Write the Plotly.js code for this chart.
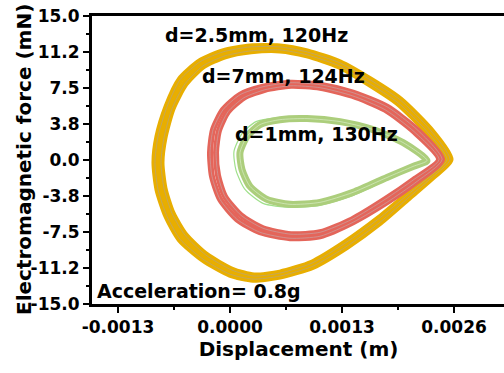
<!DOCTYPE html>
<html>
<head>
<meta charset="utf-8">
<script src="https://cdn.plot.ly/plotly-3.0.1.min.js"></script>
<style>
html, body { margin: 0; padding: 0; overflow: hidden; background: #fff; }
#chart { width: 510px; height: 373px; }
</style>
</head>
<body>
<div id="chart"></div>
<script>
// Loop d=2.5mm, 120Hz (displacement in m, force in mN) - outer cycle
const x25 = [0.002554, 0.002321, 0.001973, 0.001625, 0.001277, 0.000894, 0.000580, 0.000232, -0.000081, -0.000348, -0.000580, -0.000731, -0.000836, -0.000871, -0.000836, -0.000731, -0.000580, -0.000313, 0.000000, 0.000267, 0.000580, 0.000963, 0.001358, 0.001741, 0.002089, 0.002356, 0.002554];
const y25 = [0.05, 3.17, 6.28, 8.36, 10.12, 11.26, 11.78, 11.78, 11.26, 10.23, 8.36, 5.55, 2.44, -0.26, -3.06, -5.87, -8.25, -10.33, -11.89, -12.41, -12.09, -11.06, -8.98, -6.49, -3.79, -1.71, 0.05];
// d=2.5mm - inner cycle
const x25b = [0.002519, 0.002287, 0.001950, 0.001602, 0.001265, 0.000894, 0.000580, 0.000244, -0.000058, -0.000313, -0.000522, -0.000673, -0.000766, -0.000801, -0.000766, -0.000673, -0.000522, -0.000279, 0.000023, 0.000279, 0.000580, 0.000952, 0.001335, 0.001718, 0.002066, 0.002333, 0.002519];
const y25b = [0.05, 2.96, 5.97, 8.05, 9.81, 10.95, 11.47, 11.37, 10.85, 9.81, 7.94, 5.35, 2.34, -0.26, -2.96, -5.55, -7.84, -9.91, -11.47, -12.09, -11.78, -10.74, -8.67, -6.18, -3.58, -1.61, 0.05];
// Loop d=7mm, 124Hz - outer cycle
const x7 = [0.002461, 0.002171, 0.001822, 0.001428, 0.001045, 0.000696, 0.000383, 0.000116, -0.000081, -0.000197, -0.000232, -0.000209, -0.000116, 0.000081, 0.000348, 0.000696, 0.001045, 0.001428, 0.001822, 0.002171, 0.002461];
const y7 = [0.05, 3.17, 5.55, 7.01, 7.84, 8.05, 7.63, 6.80, 5.24, 3.17, 0.78, -1.71, -4.10, -6.18, -7.53, -8.15, -7.94, -6.49, -4.41, -2.23, 0.05];
// d=7mm - inner cycle
const x7b = [0.002426, 0.002136, 0.001799, 0.001416, 0.001045, 0.000708, 0.000406, 0.000162, -0.000023, -0.000128, -0.000162, -0.000139, -0.000058, 0.000128, 0.000383, 0.000708, 0.001045, 0.001416, 0.001799, 0.002136, 0.002426];
const y7b = [0.05, 2.96, 5.24, 6.70, 7.53, 7.73, 7.32, 6.49, 5.03, 3.06, 0.78, -1.61, -3.79, -5.76, -7.11, -7.73, -7.53, -6.18, -4.10, -2.02, 0.05];
// Loop d=1mm, 130Hz - main cycle
const x1 = [0.002287, 0.002008, 0.001660, 0.001277, 0.000894, 0.000580, 0.000348, 0.000197, 0.000116, 0.000139, 0.000232, 0.000429, 0.000696, 0.001045, 0.001428, 0.001822, 0.002124, 0.002287];
const y1 = [-0.05, 1.82, 3.17, 4.00, 4.31, 4.20, 3.69, 2.44, 0.78, -0.99, -2.75, -4.10, -4.62, -4.41, -3.37, -1.82, -0.67, -0.05];
// d=1mm - outer cycle
const x1b = [0.002310, 0.002020, 0.001660, 0.001277, 0.000882, 0.000557, 0.000302, 0.000139, 0.000046, 0.000070, 0.000174, 0.000383, 0.000685, 0.001045, 0.001428, 0.001834, 0.002147, 0.002310];
const y1b = [-0.05, 2.02, 3.37, 4.20, 4.52, 4.41, 4.00, 2.75, 0.88, -1.09, -3.06, -4.52, -4.93, -4.72, -3.69, -2.02, -0.78, -0.05];

const yTickVals = [-15, -11.25, -7.5, -3.75, 0, 3.75, 7.5, 11.25, 15];
const yTickText = ['-15.0', '-11.2', '-7.5', '-3.8', '0.0', '3.8', '7.5', '11.2', '15.0'];
const xTickVals = [-0.0013, 0.0000, 0.0013, 0.0026];
const xTickText = ['-0.0013', '0.0000', '0.0013', '0.0026'];

const FONT = 'DejaVu Sans, Liberation Sans, Arial, sans-serif';

function loop(x, y, color, w) {
  return { x: x, y: y, type: 'scatter', mode: 'lines',
    line: { color: color, width: w, shape: 'spline', smoothing: 0.65 },
    hoverinfo: 'skip', showlegend: false };
}

const data = [
  loop(x25, y25, '#e8ae00', 7),
  loop(x25b, y25b, '#e8ae00', 7),
  loop(x25, y25, 'rgba(185,165,120,0.9)', 0.8),
  loop(x25b, y25b, 'rgba(185,165,120,0.9)', 0.8),
  loop(x7, y7, '#e4655a', 6),
  loop(x7b, y7b, '#e4655a', 6),
  loop(x7, y7, 'rgba(200,160,160,0.9)', 0.8),
  loop(x7b, y7b, 'rgba(200,160,160,0.9)', 0.8),
  loop(x1b, y1b, '#9fe08a', 1.2),
  loop(x1, y1, '#acce7c', 7),
  loop(x1, y1, 'rgba(215,235,195,0.9)', 0.8)
];

const tickFont = { family: FONT, size: 17, color: '#000', weight: 'bold' };
const annFont = { family: FONT, size: 19, color: '#000', weight: 'bold' };

const layout = {
  width: 510, height: 373,
  margin: { l: 92, r: 5, t: 16, b: 69 },
  paper_bgcolor: '#fff', plot_bgcolor: '#fff',
  showlegend: false,
  xaxis: {
    range: [-0.0016018, 0.003192],
    tickmode: 'array', tickvals: xTickVals, ticktext: xTickText,
    ticks: 'outside', ticklen: 6, tickwidth: 2, tickcolor: '#000',
    minor: { ticks: 'outside', ticklen: 3, tickwidth: 2, tickcolor: '#000', tickmode: 'array', tickvals: [-0.00195, -0.00065, 0.00065, 0.00195, 0.00325] },
    showline: true, linewidth: 3, linecolor: '#000', mirror: true,
    showgrid: false, zeroline: false,
    tickfont: tickFont,
    title: { text: 'Displacement (m)', font: { family: FONT, size: 20, color: '#000', weight: 'bold' }, standoff: 4 },
    automargin: false
  },
  yaxis: {
    range: [-15, 15],
    tickmode: 'array', tickvals: yTickVals, ticktext: yTickText,
    ticks: 'outside', ticklen: 6, tickwidth: 2, tickcolor: '#000',
    minor: { ticks: 'outside', ticklen: 3, tickwidth: 2, tickcolor: '#000', tickmode: 'array', tickvals: [-13.125, -9.375, -5.625, -1.875, 1.875, 5.625, 9.375, 13.125] },
    showline: true, linewidth: 3, linecolor: '#000', mirror: true,
    showgrid: false, zeroline: false,
    tickfont: tickFont,
    automargin: false
  },
  annotations: [
    { text: 'Electromagnetic force (mN)', xref: 'paper', yref: 'paper', x: -0.1646, y: 0.5, xanchor: 'center', yanchor: 'middle', textangle: -90, showarrow: false, font: { family: FONT, size: 20, color: '#000', weight: 'bold' } },
    { text: 'd=2.5mm, 120Hz', xref: 'paper', yref: 'paper', x: 0.172, y: 0.934, xanchor: 'left', yanchor: 'middle', showarrow: false, font: annFont },
    { text: 'd=7mm, 124Hz', xref: 'paper', yref: 'paper', x: 0.2615, y: 0.791, xanchor: 'left', yanchor: 'middle', showarrow: false, font: annFont },
    { text: 'd=1mm, 130Hz', xref: 'paper', yref: 'paper', x: 0.341, y: 0.592, xanchor: 'left', yanchor: 'middle', showarrow: false, font: annFont },
    { text: 'Acceleration= 0.8g', xref: 'paper', yref: 'paper', x: 0.007, y: 0.045, xanchor: 'left', yanchor: 'middle', showarrow: false, font: annFont }
  ]
};

Plotly.newPlot('chart', data, layout, { staticPlot: true, displayModeBar: false });
</script>
</body>
</html>
